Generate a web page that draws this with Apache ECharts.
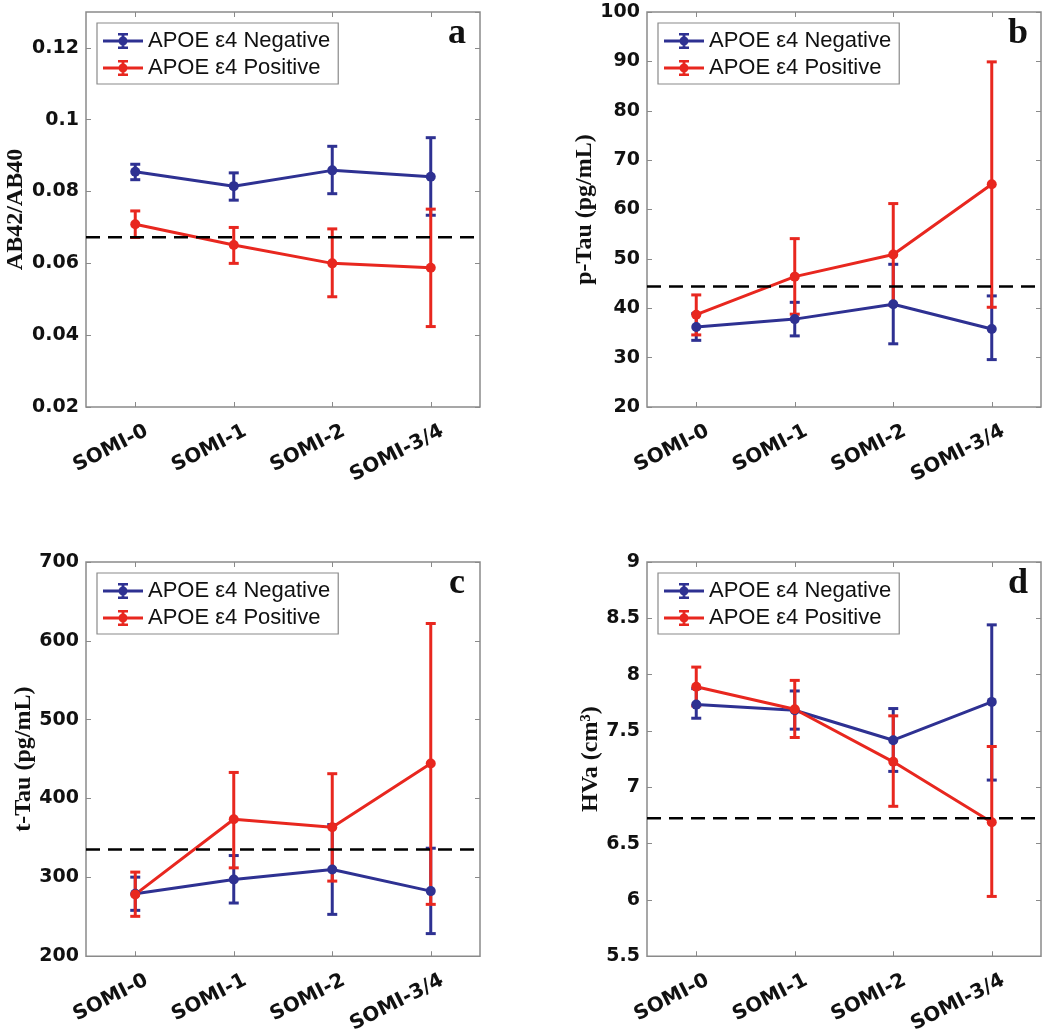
<!DOCTYPE html>
<html>
<head>
<meta charset="utf-8">
<script src="https://cdn.jsdelivr.net/npm/echarts@6/dist/echarts.min.js"></script>
<style>
html,body{margin:0;padding:0;background:#fff;}
#chart{width:1050px;height:1036px;}
</style>
</head>
<body>
<div id="chart"></div>
<script>
// ---------- data ----------
const categories = ['SOMI-0', 'SOMI-1', 'SOMI-2', 'SOMI-3/4'];
const seriesNames = ['APOE ε4 Negative', 'APOE ε4 Positive'];

// Panel a: AB42/AB40
const abNegMean = [0.0855, 0.0815, 0.0859, 0.0841];
const abNegLow  = [0.0833, 0.0776, 0.0794, 0.0734];
const abNegHigh = [0.0876, 0.0852, 0.0926, 0.0950];
const abPosMean = [0.0709, 0.0651, 0.0600, 0.0588];
const abPosLow  = [0.0672, 0.0600, 0.0507, 0.0424];
const abPosHigh = [0.0746, 0.0700, 0.0696, 0.0751];
const abCutoff = 0.0673;

// Panel b: p-Tau
const ptNegMean = [36.2, 37.8, 40.8, 35.8];
const ptNegLow  = [33.5, 34.4, 32.8, 29.6];
const ptNegHigh = [38.9, 41.2, 48.9, 42.5];
const ptPosMean = [38.7, 46.4, 50.9, 65.1];
const ptPosLow  = [34.6, 38.8, 40.6, 40.2];
const ptPosHigh = [42.7, 54.1, 61.2, 89.9];
const ptCutoff = 44.4;

// Panel c: t-Tau
const ttNegMean = [279.3, 297.4, 310.0, 282.6];
const ttNegLow  = [258.2, 267.5, 253.1, 228.7];
const ttNegHigh = [300.3, 327.7, 367.0, 337.0];
const ttPosMean = [278.4, 373.7, 363.6, 444.5];
const ttPosLow  = [250.6, 312.1, 295.3, 265.8];
const ttPosHigh = [306.7, 433.1, 431.5, 622.0];
const ttCutoff = 335.3;

// Panel d: HVa
const hvNegMean = [7.734, 7.684, 7.418, 7.758];
const hvNegLow  = [7.613, 7.516, 7.141, 7.064];
const hvNegHigh = [7.876, 7.855, 7.699, 8.442];
const hvPosMean = [7.893, 7.693, 7.226, 6.689];
const hvPosLow  = [7.722, 7.442, 6.831, 6.031];
const hvPosHigh = [8.067, 7.949, 7.634, 7.362];
const hvCutoff = 6.725;

// axis settings
const yMins = [0.02, 20, 200, 5.5];
const yMaxs = [0.13, 100, 700, 9];
const yIntervals = [0.02, 10, 100, 0.5];
const yNames = ['AB42/AB40', 'p-Tau (pg/mL)', 't-Tau (pg/mL)', 'HVa (cm³)'];
const panelLetters = ['a', 'b', 'c', 'd'];

// ---------- layout / style ----------
const BLUE = '#2e3192';
const RED = '#e8271f';
const GRAY = '#8a8a8a';
const grids = [
  {left: 86, top: 12, width: 394, height: 395},
  {left: 647, top: 12, width: 394, height: 395},
  {left: 86, top: 562, width: 394, height: 396},
  {left: 647, top: 562, width: 394, height: 396}
];
const nameGaps = [54, 45, 46, 44];

const panels = [
  {neg: [abNegMean, abNegLow, abNegHigh], pos: [abPosMean, abPosLow, abPosHigh], cut: abCutoff},
  {neg: [ptNegMean, ptNegLow, ptNegHigh], pos: [ptPosMean, ptPosLow, ptPosHigh], cut: ptCutoff},
  {neg: [ttNegMean, ttNegLow, ttNegHigh], pos: [ttPosMean, ttPosLow, ttPosHigh], cut: ttCutoff},
  {neg: [hvNegMean, hvNegLow, hvNegHigh], pos: [hvPosMean, hvPosLow, hvPosHigh], cut: hvCutoff}
];

function errRender(color) {
  return function (params, api) {
    const x = api.value(0);
    const lo = api.coord([x, api.value(1)]);
    const hi = api.coord([x, api.value(2)]);
    const half = 5;
    const style = {stroke: color, lineWidth: 3, fill: null};
    return {
      type: 'group',
      children: [
        {type: 'line', shape: {x1: lo[0], y1: lo[1], x2: hi[0], y2: hi[1]}, style: style},
        {type: 'line', shape: {x1: lo[0] - half, y1: lo[1], x2: lo[0] + half, y2: lo[1]}, style: style},
        {type: 'line', shape: {x1: hi[0] - half, y1: hi[1], x2: hi[0] + half, y2: hi[1]}, style: style}
      ]
    };
  };
}

function cutRender(params, api) {
  const y = api.coord([api.value(0), api.value(1)])[1];
  const cs = params.coordSys;
  return {
    type: 'line',
    shape: {x1: cs.x, y1: y, x2: cs.x + cs.width, y2: y},
    style: {stroke: '#000', lineWidth: 2.5, lineDash: [14, 8], fill: null}
  };
}

const legendIcon = 'path://M0 6.5L40 6.5L40 9.5L0 9.5Z' +
  'M18.6 0L21.4 0L21.4 16L18.6 16Z' +
  'M15 0L25 0L25 2.6L15 2.6Z' +
  'M15 13.4L25 13.4L25 16L15 16Z' +
  'M24.5 8A4.5 4.5 0 1 1 15.5 8A4.5 4.5 0 1 1 24.5 8Z';

const tickLabelFont = {fontFamily: 'DejaVu Sans', fontWeight: 'bold', fontSize: 19, color: '#111'};

const option = {
  animation: false,
  backgroundColor: '#fff',
  grid: [], xAxis: [], yAxis: [], series: [], legend: [], graphic: []
};

panels.forEach(function (p, i) {
  const g = grids[i];
  option.grid.push(Object.assign({show: true, borderColor: GRAY, borderWidth: 1.5, backgroundColor: 'transparent', containLabel: false}, g));
  // bottom category axis
  option.xAxis.push({
    type: 'category', gridIndex: i, data: categories, boundaryGap: true, position: 'bottom',
    axisLine: {show: false},
    axisTick: {show: true, inside: true, alignWithLabel: true, interval: 0, length: 5, lineStyle: {color: GRAY, width: 1}},
    axisLabel: {interval: 0, rotate: 27, margin: 29, padding: [0, -13, 0, 0],
      fontFamily: 'DejaVu Sans', fontWeight: 'bold', fontSize: 20, color: '#111'},
    splitLine: {show: false}
  });
  // top mirror axis
  option.xAxis.push({
    type: 'category', gridIndex: i, data: categories, boundaryGap: true, position: 'top',
    axisLine: {show: false},
    axisTick: {show: true, inside: true, alignWithLabel: true, interval: 0, length: 5, lineStyle: {color: GRAY, width: 1}},
    axisLabel: {show: false}, splitLine: {show: false}
  });
  // left value axis
  option.yAxis.push({
    type: 'value', gridIndex: i, min: yMins[i], max: yMaxs[i], interval: yIntervals[i], position: 'left',
    name: yNames[i], nameLocation: 'middle', nameGap: nameGaps[i],
    nameTextStyle: {fontFamily: 'Liberation Serif', fontWeight: 'bold', fontSize: 24, color: '#111'},
    axisLine: {show: false},
    axisTick: {show: true, inside: true, length: 5, lineStyle: {color: GRAY, width: 1}},
    axisLabel: Object.assign({margin: 7, showMaxLabel: i !== 0}, tickLabelFont),
    splitLine: {show: false}
  });
  // right mirror axis
  option.yAxis.push({
    type: 'value', gridIndex: i, min: yMins[i], max: yMaxs[i], interval: yIntervals[i], position: 'right',
    axisLine: {show: false},
    axisTick: {show: true, inside: true, length: 5, lineStyle: {color: GRAY, width: 1}},
    axisLabel: {show: false}, splitLine: {show: false}
  });

  const xi = i * 2, yi = i * 2;
  const groups = [[p.neg, BLUE, seriesNames[0]], [p.pos, RED, seriesNames[1]]];
  groups.forEach(function (gr, k) {
    const arr = gr[0], color = gr[1], name = gr[2];
    option.series.push({
      type: 'custom', name: 'err-' + i + '-' + k, xAxisIndex: xi, yAxisIndex: yi,
      renderItem: errRender(color),
      encode: {x: 0, y: [1, 2]},
      data: categories.map(function (c, j) { return [j, arr[1][j], arr[2][j]]; }),
      silent: true, z: 2
    });
    option.series.push({
      type: 'line', name: name, xAxisIndex: xi, yAxisIndex: yi,
      data: arr[0], symbol: 'circle', symbolSize: 10, showSymbol: true,
      itemStyle: {color: color}, lineStyle: {color: color, width: 3}, z: 2
    });
  });
  // dashed cutoff line across the whole plot
  option.series.push({
    type: 'custom', name: 'cutoff-' + i, xAxisIndex: xi, yAxisIndex: yi,
    renderItem: cutRender, encode: {x: 0, y: 1},
    data: [[0, p.cut]], silent: true, z: 3
  });

  option.legend.push({
    orient: 'vertical', left: g.left + 11, top: g.top + 11,
    selectedMode: false,
    data: seriesNames.map(function (n) { return {name: n, icon: legendIcon}; }),
    itemWidth: 40, itemHeight: 16, itemGap: 3,
    itemStyle: {borderWidth: 0},
    padding: [6, 8, 4, 6],
    backgroundColor: '#fff', borderColor: GRAY, borderWidth: 1.2,
    textStyle: {fontFamily: 'Liberation Sans', fontSize: 22, color: '#111', lineHeight: 24}
  });

  option.graphic.push({
    type: 'text', x: g.left + g.width - 23, y: g.top + 22,
    style: {text: panelLetters[i], font: 'bold 36px "Liberation Serif"', fill: '#111', textAlign: 'center', textVerticalAlign: 'middle'}
  });
});

const chart = echarts.init(document.getElementById('chart'), null, {renderer: 'canvas'});
chart.setOption(option);
</script>
</body>
</html>
